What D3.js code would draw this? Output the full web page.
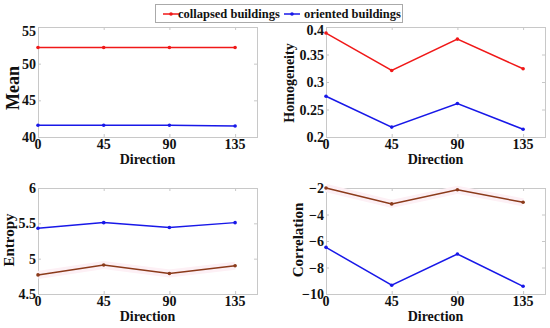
<!DOCTYPE html>
<html lang="en">
<head>
<meta charset="UTF-8">
<title>Texture features by direction</title>
<script src="https://cdn.jsdelivr.net/npm/d3@7"></script>
<style>
body { margin: 0; background: #fff; }
svg text { font-family: "Liberation Serif", "Times New Roman", Times, serif; font-weight: bold; fill: #111; }
.frame { fill: none; stroke: #c8c8c8; stroke-width: 1; }
.tick-in { stroke: #c8c8c8; stroke-width: 1; }
.lbl { font-size: 14px; }
.ttl { font-size: 14px; }
</style>
</head>
<body>
<svg width="550" height="328"></svg>
<script>
var directions = [0, 45, 90, 135];

var meanCollapsed = [52.2, 52.2, 52.2, 52.2];
var meanOriented = [41.6, 41.6, 41.6, 41.5];
var homCollapsed = [0.389, 0.321, 0.378, 0.324];
var homOriented = [0.274, 0.218, 0.261, 0.214];
var entCollapsed = [4.77, 4.91, 4.79, 4.90];
var entOriented = [5.43, 5.51, 5.44, 5.51];
var corCollapsed = [-2.0, -3.2, -2.13, -3.08];
var corOriented = [-6.48, -9.34, -6.98, -9.42];

var meanTicks = [40, 45, 50, 55];
var homTicks = [0.2, 0.25, 0.3, 0.35, 0.4];
var entTicks = [4.5, 5, 5.5, 6];
var corTicks = [-10, -8, -6, -4, -2];

var seriesNames = ["collapsed buildings", "oriented buildings"];

var svg = d3.select("svg");

// box = [left, top, right, bottom]; label = [baseline x, centre y, font size]
var panels = [
	{ name: "Mean", a: meanCollapsed, b: meanOriented, ticks: meanTicks, fmt: d3.format("d"),
	  box: [38, 27, 257, 137], ca: "#f01818", halo: false, label: [19, 88, 18], topShift: 4 },
	{ name: "Homogeneity", a: homCollapsed, b: homOriented, ticks: homTicks, fmt: function(d) { return String(d); },
	  box: [326, 27, 545, 137], ca: "#f01818", halo: false, label: [294, 83, 14], topShift: 3 },
	{ name: "Entropy", a: entCollapsed, b: entOriented, ticks: entTicks, fmt: function(d) { return String(d); },
	  box: [38, 188, 257, 294], ca: "#8b3a1a", halo: true, label: [14, 240, 15], topShift: 0 },
	{ name: "Correlation", a: corCollapsed, b: corOriented, ticks: corTicks, fmt: d3.format("d"),
	  box: [326, 188, 545, 294], ca: "#8b3a1a", halo: true, label: [303, 240, 15], topShift: 0 }
];

var blue = "#1818e8";

panels.forEach(function(p) {
	var x = d3.scaleLinear().domain([0, 150]).range([p.box[0], p.box[2]]);
	var y = d3.scaleLinear().domain(d3.extent(p.ticks)).range([p.box[3], p.box[1]]);
	var top = d3.max(p.ticks);
	var g = svg.append("g");

	g.append("rect").attr("class", "frame")
		.attr("x", p.box[0] + 0.5).attr("y", p.box[1] + 0.5)
		.attr("width", p.box[2] - p.box[0]).attr("height", p.box[3] - p.box[1]);

	// inward ticks on all four sides
	directions.forEach(function(d) {
		g.append("line").attr("class", "tick-in")
			.attr("x1", x(d) + 0.5).attr("x2", x(d) + 0.5)
			.attr("y1", p.box[3]).attr("y2", p.box[3] - 3);
		g.append("line").attr("class", "tick-in")
			.attr("x1", x(d) + 0.5).attr("x2", x(d) + 0.5)
			.attr("y1", p.box[1]).attr("y2", p.box[1] + 3);
		g.append("text").attr("class", "lbl")
			.attr("x", x(d)).attr("y", p.box[3] + 12)
			.attr("text-anchor", "middle").text(d);
	});
	p.ticks.forEach(function(t) {
		g.append("line").attr("class", "tick-in")
			.attr("x1", p.box[0]).attr("x2", p.box[0] + 3)
			.attr("y1", y(t) + 0.5).attr("y2", y(t) + 0.5);
		g.append("line").attr("class", "tick-in")
			.attr("x1", p.box[2]).attr("x2", p.box[2] - 3)
			.attr("y1", y(t) + 0.5).attr("y2", y(t) + 0.5);
		g.append("text").attr("class", "lbl")
			.attr("x", p.box[0] - 2).attr("y", y(t) + 5 + (t === top ? p.topShift : 0))
			.attr("text-anchor", "end").text(p.fmt(t));
	});

	g.append("text").attr("class", "ttl")
		.attr("x", (p.box[0] + p.box[2]) / 2).attr("y", p.box[3] + 27)
		.attr("text-anchor", "middle").text("Direction");
	g.append("text")
		.attr("transform", "translate(" + p.label[0] + "," + p.label[1] + ") rotate(-90)")
		.style("font-size", p.label[2] + "px")
		.attr("text-anchor", "middle").text(p.name);

	var line = d3.line()
		.x(function(d, i) { return x(directions[i]); })
		.y(function(d) { return y(d); });

	if (p.halo) {
		g.append("path").datum(p.a).attr("d", line)
			.attr("fill", "none").attr("stroke", "#fdf0f5").attr("stroke-width", 8);
	}
	[[p.a, p.ca], [p.b, blue]].forEach(function(s) {
		g.append("path").datum(s[0]).attr("d", line)
			.attr("fill", "none").attr("stroke", s[1]).attr("stroke-width", 1.5);
		g.selectAll(null).data(s[0]).enter().append("circle")
			.attr("cx", function(d, i) { return x(directions[i]); })
			.attr("cy", function(d) { return y(d); })
			.attr("r", 1.8).attr("fill", s[1]);
	});
});

// legend
var lg = svg.append("g");
lg.append("rect").attr("x", 155.5).attr("y", 4.5).attr("width", 247).attr("height", 18)
	.attr("fill", "#fff").attr("stroke", "#aaa");
var legendItems = [
	{ name: seriesNames[0], color: "#f01818", x0: 163, tx: 178 },
	{ name: seriesNames[1], color: blue, x0: 284, tx: 304 }
];
legendItems.forEach(function(it) {
	lg.append("line").attr("x1", it.x0).attr("x2", it.x0 + 16)
		.attr("y1", 14).attr("y2", 14).attr("stroke", it.color).attr("stroke-width", 1.5);
	lg.append("circle").attr("cx", it.x0 + 8).attr("cy", 14).attr("r", 1.8).attr("fill", it.color);
	lg.append("text").attr("x", it.tx).attr("y", 18).style("font-size", "12.5px").text(it.name);
});
</script>
</body>
</html>
